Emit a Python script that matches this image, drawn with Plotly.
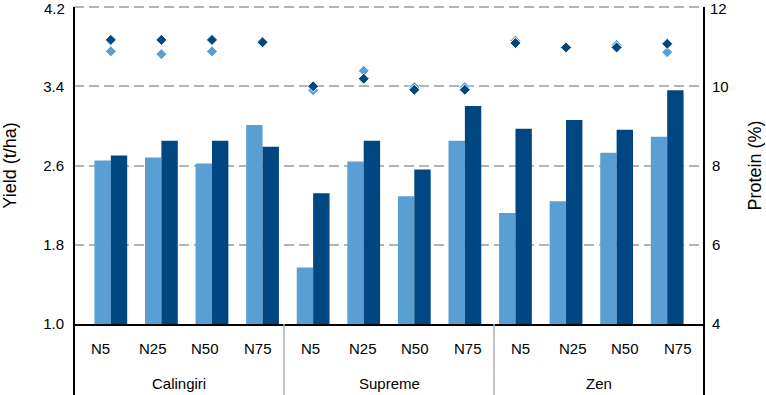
import plotly.graph_objects as go

cultivars = ["Calingiri", "Supreme", "Zen"]
treatments = ["N5", "N25", "N50", "N75"]

yield_light = [2.65, 2.68, 2.62, 3.01, 1.57, 2.64, 2.29, 2.85, 2.12, 2.24, 2.73, 2.89]
yield_dark = [2.70, 2.85, 2.85, 2.79, 2.32, 2.85, 2.56, 3.20, 2.97, 3.06, 2.96, 3.36]
protein_light = [10.88, 10.81, 10.88, 11.10, 9.90, 10.39, 9.98, 9.98, 11.15, 10.98, 11.04, 10.86]
protein_dark = [11.17, 11.17, 11.17, 11.11, 10.00, 10.19, 9.91, 9.91, 11.09, 10.98, 10.98, 11.07]

yield_ticks = [1.0, 1.8, 2.6, 3.4, 4.2]
protein_ticks = [4, 6, 8, 10, 12]

LIGHT = "#5A9FD4"
DARK = "#004781"
FONT = "Liberation Sans, Arial, sans-serif"

x_cult = [c for c in cultivars for _ in treatments]
x_treat = [t for _ in cultivars for t in treatments]
x = [x_cult, x_treat]
n = len(x_treat)
nt = len(treatments)

fig = go.Figure()
fig.add_trace(go.Bar(x=x, y=yield_light, marker=dict(color=LIGHT, line=dict(width=0)), showlegend=False))
fig.add_trace(go.Bar(x=x, y=yield_dark, marker=dict(color=DARK, line=dict(width=0)), showlegend=False))
fig.add_trace(go.Scatter(x=x, y=protein_light, yaxis="y2", mode="markers",
                         marker=dict(symbol="diamond", size=8.5, color=LIGHT, line=dict(color="white", width=1)),
                         showlegend=False))
fig.add_trace(go.Scatter(x=x, y=protein_dark, yaxis="y2", mode="markers",
                         marker=dict(symbol="diamond", size=8.5, color=DARK, line=dict(color="white", width=1)),
                         showlegend=False))

plot_h = 395 - 7 - 71
bot = -71 / plot_h
shapes = [dict(type="line", xref="paper", yref="paper", x0=0, x1=1, y0=1, y1=1,
               line=dict(color="#b3b3b3", width=2, dash="10px,5px"), layer="below")]
for k in range(len(cultivars) + 1):
    xp = k * nt / n
    outer = k in (0, len(cultivars))
    shapes.append(dict(type="line", xref="paper", yref="paper", x0=xp, x1=xp,
                       y0=bot, y1=1 if outer else 0,
                       line=dict(color="black" if outer else "#b0b0b0", width=2 if outer else 1.5),
                       layer="above"))

annotations = []
for i, t in enumerate(x_treat):
    annotations.append(dict(text=t, xref="paper", yref="paper", x=(i + 0.5) / n, y=-24 / plot_h,
                            showarrow=False, xanchor="center", yanchor="middle", font=dict(size=15)))
for j, c in enumerate(cultivars):
    annotations.append(dict(text=c, xref="paper", yref="paper", x=(j + 0.5) * nt / n, y=-59 / plot_h,
                            showarrow=False, xanchor="center", yanchor="middle", font=dict(size=15)))
# top tick labels, nudged down slightly so they stay inside the page
annotations.append(dict(text=f"{yield_ticks[-1]:.1f}", xref="paper", yref="paper", x=0, y=1 - 2 / plot_h,
                        xshift=-7, showarrow=False, xanchor="right", yanchor="middle", font=dict(size=15)))
annotations.append(dict(text=str(protein_ticks[-1]), xref="paper", yref="paper", x=1, y=1 - 2 / plot_h,
                        xshift=4, showarrow=False, xanchor="left", yanchor="middle", font=dict(size=15)))

fig.update_layout(
    width=766, height=395,
    margin=dict(l=74, r=62, t=7, b=71),
    paper_bgcolor="white", plot_bgcolor="white",
    font=dict(family=FONT, size=15, color="black"),
    barmode="group", bargap=0.352, bargroupgap=0,
    shapes=shapes, annotations=annotations,
    xaxis=dict(type="multicategory", showdividers=False, showline=True, linecolor="black", linewidth=2,
               ticks="", showticklabels=False, showgrid=False),
    yaxis=dict(range=[1.0, 4.2001], tickvals=yield_ticks,
               ticktext=[f"{v:.1f}" for v in yield_ticks[:-1]] + [""],
               showgrid=True, gridcolor="#b3b3b3", gridwidth=1.5, griddash="10px,5px",
               automargin=False,
               showline=False, ticks="outside", ticklen=6, tickcolor="rgba(0,0,0,0)", zeroline=False,
               title=dict(text="Yield (t/ha)", font=dict(size=18), standoff=21)),
    yaxis2=dict(range=[4, 12.0003], tickvals=protein_ticks,
                ticktext=[str(v) for v in protein_ticks[:-1]] + [""],
                overlaying="y", side="right", automargin=False,
                showgrid=False, showline=False, ticks="outside", ticklen=4, tickcolor="rgba(0,0,0,0)",
                zeroline=False,
                title=dict(text="Protein (%)", font=dict(size=18), standoff=20)),
)

fig.write_html("out.html", config={"displayModeBar": False},
               post_script="document.body.style.margin='0';")
